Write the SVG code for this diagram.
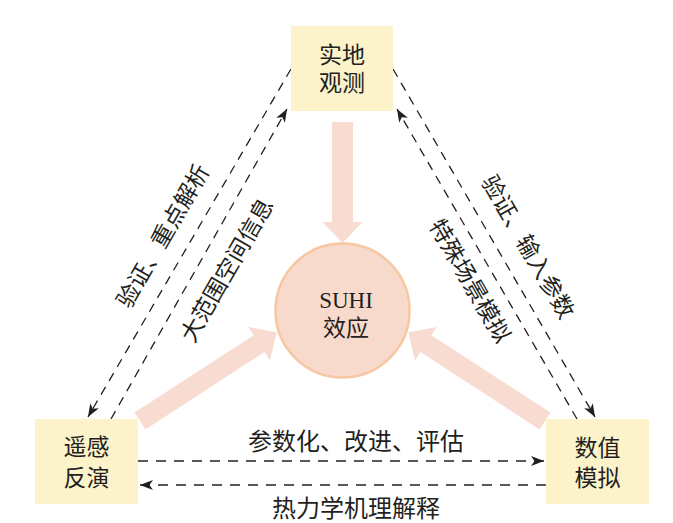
<svg xmlns="http://www.w3.org/2000/svg" width="673" height="523" viewBox="0 0 673 523">
<style>
.box{fill:#fcf3cb;}
.big{fill:#f8dcd2;}
.dash{fill:none;stroke:#231f20;stroke-width:1.3;stroke-dasharray:9 7;}
.hdash{fill:none;stroke:#231f20;stroke-width:1.3;stroke-dasharray:10 8;}
.t{font-family:"Liberation Serif","Noto Sans CJK SC",serif;font-size:23px;fill:#231f20;text-anchor:middle;}
.en{font-family:"Liberation Serif",serif;font-size:23px;fill:#231f20;text-anchor:middle;}
</style>
<defs>
<marker id="ah" markerUnits="userSpaceOnUse" markerWidth="14" markerHeight="12" refX="13" refY="5" orient="auto">
<path d="M0,0 L13,5 L0,10 L3.5,5 Z" fill="#231f20"/>
</marker>
</defs>
<rect width="673" height="523" fill="#ffffff"/>
<g id="connectors">
<polygon class="big" points="332,122 353,122 353,222 362.5,222 342.5,243 322.5,222 332,222"/>
<polygon class="big" points="134.55,412.62 253.65,335.26 248.2,326.88 276.7,332.2 270,360.42 264.55,352.04 145.45,429.39"/>
<polygon class="big" points="550.45,412.62 431.35,335.26 436.8,326.88 408.3,332.2 415,360.42 420.45,352.04 539.55,429.39"/>
<line class="dash" x1="291" y1="69" x2="88" y2="417" marker-end="url(#ah)"/>
<line class="dash" x1="111" y1="419" x2="287" y2="109" marker-end="url(#ah)"/>
<line class="dash" x1="393" y1="69" x2="595" y2="417" marker-end="url(#ah)"/>
<line class="dash" x1="577" y1="419" x2="397" y2="109" marker-end="url(#ah)"/>
<line class="hdash" x1="138" y1="461" x2="544" y2="461" marker-end="url(#ah)"/>
<line class="hdash" x1="546" y1="485" x2="140" y2="485" marker-end="url(#ah)"/>
<text class="t" transform="translate(163,236) rotate(-60)" y="8">验证、重点解析</text>
<text class="t" transform="translate(227,270) rotate(-60)" y="8">大范围空间信息</text>
<text class="t" transform="translate(528,247) rotate(60)" y="8">验证、输入参数</text>
<text class="t" transform="translate(470,281) rotate(60)" y="8">特殊场景模拟</text>
<text class="t" x="356" y="450" style="font-size:24px">参数化、改进、评估</text>
<text class="t" x="356" y="517" style="font-size:24px">热力学机理解释</text>
</g>
<g id="node-field">
<rect class="box" x="291" y="26" width="102" height="85"/>
<text class="t" x="342" y="63">实地</text>
<text class="t" x="342" y="91">观测</text>
</g>
<g id="node-rs">
<rect class="box" x="35" y="419" width="103" height="85"/>
<text class="t" x="86.5" y="455">遥感</text>
<text class="t" x="86.5" y="486">反演</text>
</g>
<g id="node-sim">
<rect class="box" x="546" y="419" width="103" height="85"/>
<text class="t" x="597.5" y="456">数值</text>
<text class="t" x="597.5" y="486">模拟</text>
</g>
<g id="node-suhi">
<circle cx="342.5" cy="310.5" r="67" fill="#f8dacd" stroke="#f6c7a0" stroke-width="2.5"/>
<text class="en" x="346" y="308">SUHI</text>
<text class="t" x="346" y="336">效应</text>
</g>
</svg>
